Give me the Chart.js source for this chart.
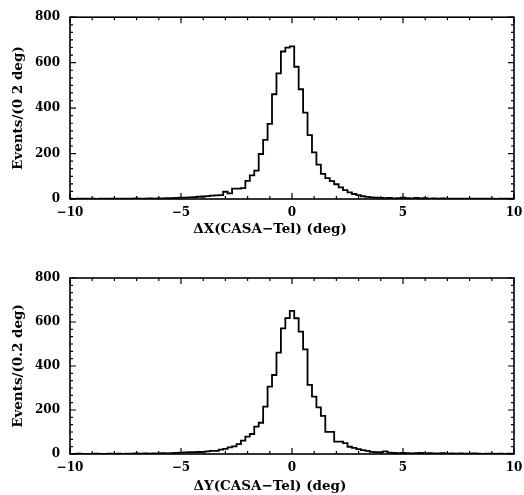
<!DOCTYPE html>
<html><head><meta charset="utf-8">
<script src="https://cdn.jsdelivr.net/npm/chart.js@4/dist/chart.umd.min.js"></script>
<style>
html,body{margin:0;padding:0;background:#fff;width:524px;height:495px;overflow:hidden}
canvas{position:absolute;left:0;display:block}
#c1{top:0}
#c2{top:247px}
</style></head><body>
<canvas id="c1" width="524" height="247"></canvas>
<canvas id="c2" width="524" height="248"></canvas>
<script>
// histogram binning (bins of 0.2 deg centred on multiples of 0.2)
const binStart = -10.1;
const binWidth = 0.2;

// Events per bin, ΔX panel (bins centred -10.0 ... 10.0)
const countsX = [
  0,1,0,1,1,2,1,0,1,2,1,1,2,2,1,2,3,2,2,3,2,3,3,4,4,
  5,6,6,7,8,10,11,13,15,16,17,
  32,25,46,46,48,80,104,125,198,260,331,461,553,649,666,672,582,483,380,281,205,151,111,92,79,65,51,39,29,22,17,12,9,7,6,
  5,4,5,3,4,6,4,3,5,3,4,2,3,2,3,2,2,1,2,1,2,1,1,2,1,1,0,1,1,2
];
// Events per bin, ΔY panel
const countsY = [
  1,0,1,2,1,1,0,2,1,1,2,1,2,1,2,2,3,2,3,2,3,3,4,3,4,
  5,6,7,8,8,9,10,12,14,14,20,
  23,30,35,45,61,79,91,124,142,215,306,359,461,571,618,651,617,556,476,314,261,212,173,101,101,56,56,49,33,28,22,18,14,10,8,7,12,6,
  5,4,5,4,3,4,5,3,4,3,3,4,2,3,2,3,2,2,3,2,1,2,2,1,2,1,2
];

const xTicks = [-10, -5, 0, 5, 10];
const yTicks = [0, 200, 400, 600, 800];
const xMinorTicks = [-9,-8,-7,-6,-4,-3,-2,-1,1,2,3,4,6,7,8,9];
const yMinorPerMajor = 6;

const titleX1 = 'ΔX(CASA\u2212Tel) (deg)';
const titleX2 = 'ΔY(CASA\u2212Tel) (deg)';
const titleY1 = 'Events/(0 2 deg)';
const titleY2 = 'Events/(0.2 deg)';

const FONT = "'DejaVu Serif', serif";

function fmt(v){ return v < 0 ? '\u2212' + (-v) : String(v); }

const frameTicks = {
  id: 'frameTicks',
  afterDatasetsDraw(chart) {
    const {ctx, chartArea: a, scales: {x, y}} = chart;
    ctx.save();
    ctx.strokeStyle = '#000';
    ctx.lineWidth = 1.6;
    ctx.strokeRect(a.left, a.top, a.right - a.left, a.bottom - a.top);
    ctx.lineWidth = 1.2;
    ctx.beginPath();
    xTicks.forEach(v => {
      const p = x.getPixelForValue(v);
      ctx.moveTo(p, a.bottom); ctx.lineTo(p, a.bottom - 6);
      ctx.moveTo(p, a.top); ctx.lineTo(p, a.top + 6);
    });
    xMinorTicks.forEach(v => {
      const p = x.getPixelForValue(v);
      ctx.moveTo(p, a.bottom); ctx.lineTo(p, a.bottom - 3);
      ctx.moveTo(p, a.top); ctx.lineTo(p, a.top + 3);
    });
    yTicks.forEach((v, i) => {
      const p = y.getPixelForValue(v);
      ctx.moveTo(a.left, p); ctx.lineTo(a.left + 6, p);
      ctx.moveTo(a.right, p); ctx.lineTo(a.right - 6, p);
      if (i < yTicks.length - 1) {
        const step = (yTicks[i+1] - v) / yMinorPerMajor;
        for (let k = 1; k < yMinorPerMajor; k++) {
          const q = y.getPixelForValue(v + k * step);
          ctx.moveTo(a.left, q); ctx.lineTo(a.left + 3, q);
          ctx.moveTo(a.right, q); ctx.lineTo(a.right - 3, q);
        }
      }
    });
    ctx.stroke();
    ctx.restore();
  }
};

function makeChart(id, counts, xTitle, yTitle, padTop, titlePad) {
  const pts = counts.map((c, i) => ({x: binStart + i * binWidth, y: c}));
  pts.push({x: binStart + counts.length * binWidth, y: counts[counts.length - 1]});
  const font = {family: FONT, size: 12, weight: 'bold'};
  const xfont = {family: FONT, size: 12, weight: 'bold', lineHeight: 2.35};
  const tfont = {family: FONT, size: 13.5, weight: 'bold'};
  return new Chart(document.getElementById(id), {
    type: 'line',
    data: {datasets: [{data: pts, borderColor: '#000', borderWidth: 1.8, pointRadius: 0, stepped: 'after', fill: false}]},
    options: {
      responsive: false, animation: false, devicePixelRatio: 1,
      layout: {autoPadding: false, padding: {left: 16, top: padTop, right: 0, bottom: 0}},
      plugins: {
        legend: {display: false}, tooltip: {enabled: false},
        title: {display: true, position: 'bottom', text: xTitle, color: '#000', font: tfont, padding: titlePad}
      },
      scales: {
        x: {
          type: 'linear', min: -10, max: 10,
          afterBuildTicks: s => { s.ticks = xTicks.map(v => ({value: v})); },
          grid: {display: false, drawTicks: false}, border: {display: false},
          ticks: {padding: 0, color: '#000', font: xfont, maxRotation: 0, autoSkip: false, callback: v => fmt(v)},
          afterFit: s => { s.height = 22; }
        },
        y: {
          type: 'linear', min: 0, max: 800,
          afterBuildTicks: s => { s.ticks = yTicks.map(v => ({value: v})); },
          grid: {display: false, drawTicks: false}, border: {display: false},
          ticks: {padding: 10, color: '#000', font: font, callback: v => fmt(v)},
          title: {display: true, text: yTitle, color: '#000', font: tfont, padding: {top: -6, bottom: 0}},
          afterFit: s => { s.width = 54; }
        },
        y2: {
          type: 'linear', position: 'right', display: true,
          grid: {display: false, drawTicks: false}, border: {display: false},
          ticks: {display: false},
          afterFit: s => { s.width = 10; }
        }
      }
    },
    plugins: [frameTicks]
  });
}

makeChart('c1', countsX, titleX1, titleY1, 14, {top: 0, bottom: 9.8});
makeChart('c2', countsY, titleX2, titleY2, 31, {top: 2.8, bottom: 0});
</script>
</body></html>
